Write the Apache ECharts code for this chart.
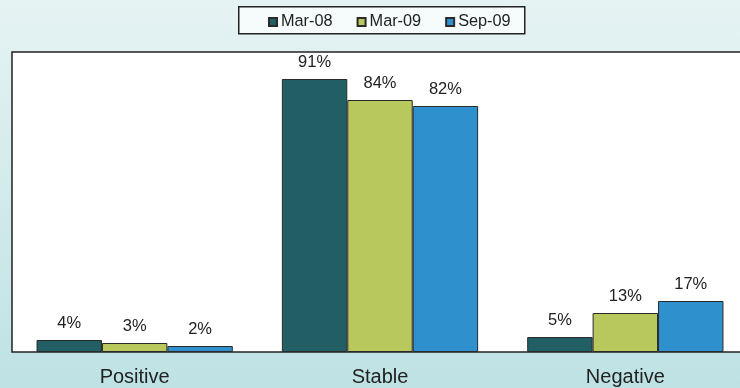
<!DOCTYPE html>
<html>
<head>
<meta charset="utf-8">
<script src="https://cdn.jsdelivr.net/npm/echarts@6/dist/echarts.min.js"></script>
<style>
  html, body { margin: 0; padding: 0; }
  #chart {
    width: 740px; height: 388px;
    background: linear-gradient(#e6f3f3, #bee2e4);
  }
</style>
</head>
<body>
<div id="chart"></div>
<script>
const categories = ['Positive', 'Stable', 'Negative'];
const seriesNames = ['Mar-08', 'Mar-09', 'Sep-09'];
const mar08 = [4, 91, 5];
const mar09 = [3, 84, 13];
const sep09 = [2, 82, 17];

const colors = ['#225f64', '#b9c85c', '#2e90cd'];

const chart = echarts.init(document.getElementById('chart'));

const labelStyle = {
    show: true,
    position: 'top',
    distance: 8,
    formatter: '{c}%',
    color: '#222',
    fontSize: 16.5,
    fontFamily: 'Liberation Sans'
};

let option = {
    backgroundColor: 'transparent',
    graphic: [{
        type: 'rect',
        left: 238,
        top: 6,
        shape: { width: 286, height: 27 },
        style: { fill: '#f6fbfb', stroke: '#222', lineWidth: 1.5 },
        z: 0
    }],
    legend: {
        top: 14,
        left: 268,
        padding: 0,
        itemWidth: 8,
        itemHeight: 8,
        itemGap: 24,
        icon: 'rect',
        textStyle: {
            color: '#222',
            fontSize: 16.3,
            fontFamily: 'Liberation Sans',
            padding: [0, 0, 0, -1]
        },
        data: seriesNames
    },
    grid: {
        show: true,
        left: 12,
        top: 52,
        width: 736,
        height: 300,
        outerBoundsMode: 'none',
        containLabel: false,
        backgroundColor: '#fff',
        borderColor: '#222',
        borderWidth: 1.5
    },
    xAxis: {
        type: 'category',
        data: categories,
        axisLine: { show: false },
        axisTick: { show: false },
        axisLabel: {
            color: '#222',
            fontSize: 20,
            fontFamily: 'Liberation Sans',
            margin: 15
        }
    },
    yAxis: {
        type: 'value',
        min: 0,
        max: 100,
        show: false,
        splitLine: { show: false }
    },
    series: [mar08, mar09, sep09].map(function (d, i) {
        return {
            name: seriesNames[i],
            type: 'bar',
            data: d,
            barGap: '0%',
            barCategoryGap: '20%',
            itemStyle: {
                color: colors[i],
                borderColor: '#2a2a2a',
                borderWidth: 1
            },
            label: labelStyle
        };
    })
};

chart.setOption(option);
</script>
</body>
</html>
